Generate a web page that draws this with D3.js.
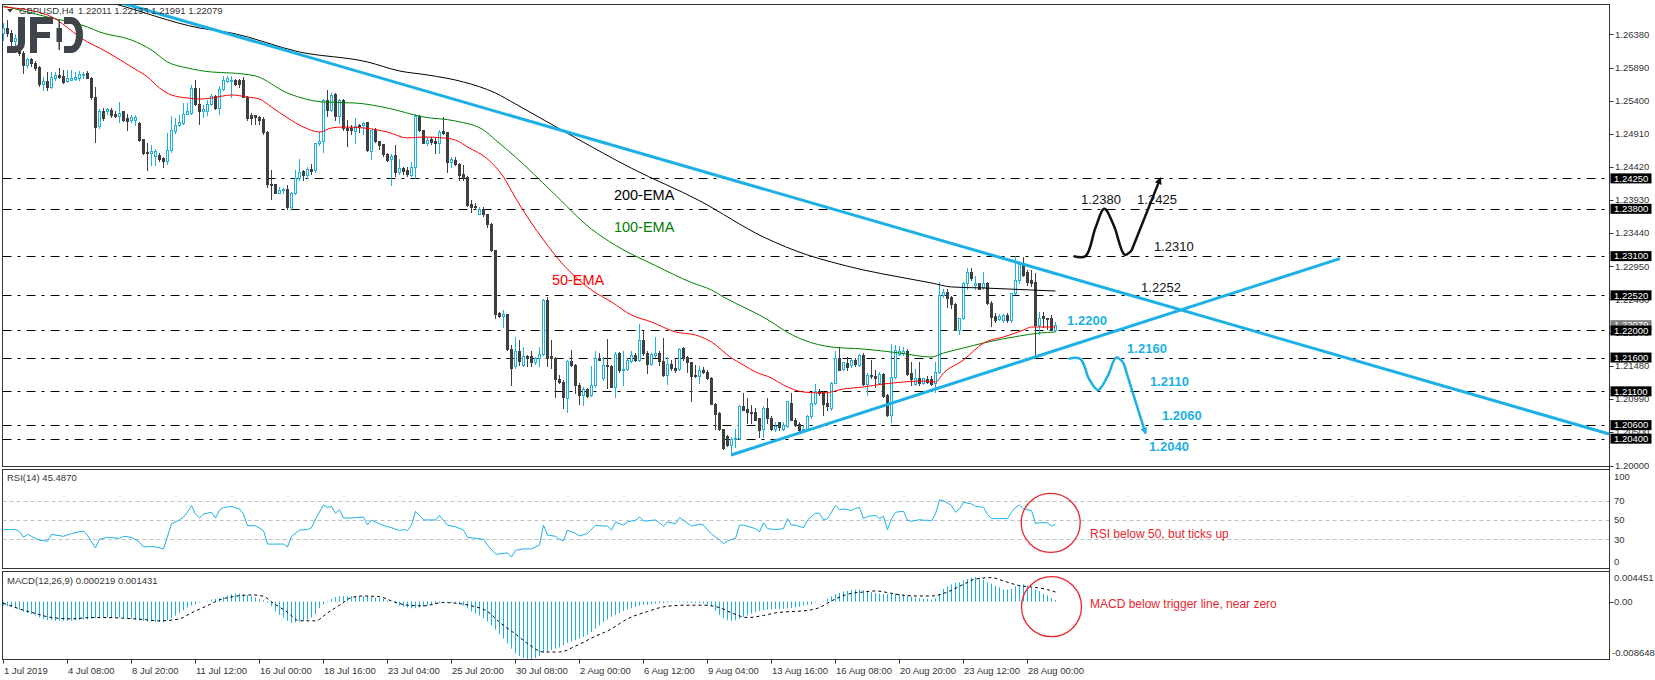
<!DOCTYPE html>
<html><head><meta charset="utf-8">
<script src="https://cdn.jsdelivr.net/npm/d3@7"></script>
<style>
body{margin:0;background:#fff}
svg{display:block}
text{font-family:"Liberation Sans",Arial,sans-serif}
</style>
</head><body>
<svg id="chart" width="1655" height="680"></svg>
<script>
// ---- GBPUSD H4 candles, bar 0 = 1 Jul 2019 ----
const barOpen = [
1.2640,1.2648,1.2640,1.2628,1.2632,1.2610,1.2593,1.2601,1.2596,1.2590,
1.2565,1.2569,1.2560,1.2573,1.2578,1.2576,1.2569,1.2571,1.2572,1.2574,
1.2578,1.2581,1.2574,1.2545,1.2502,1.2524,1.2524,1.2526,1.2521,1.2517,
1.2524,1.2514,1.2511,1.2512,1.2507,1.2483,1.2464,1.2463,1.2458,1.2460,
1.2455,1.2450,1.2467,1.2495,1.2504,1.2507,1.2521,1.2522,1.2558,1.2535,
1.2524,1.2525,1.2535,1.2547,1.2529,1.2557,1.2569,1.2569,1.2571,1.2570,
1.2570,1.2546,1.2519,1.2519,1.2516,1.2513,1.2494,1.2417,1.2416,1.2404,
1.2408,1.2410,1.2383,1.2403,1.2425,1.2436,1.2430,1.2439,1.2437,1.2477,
1.2480,1.2541,1.2526,1.2550,1.2518,1.2541,1.2500,1.2499,1.2495,1.2504,
1.2504,1.2508,1.2466,1.2497,1.2481,1.2476,1.2461,1.2453,1.2459,1.2435,
1.2441,1.2437,1.2430,1.2442,1.2518,1.2496,1.2477,1.2484,1.2480,1.2477,
1.2495,1.2494,1.2449,1.2452,1.2447,1.2431,1.2427,1.2387,1.2384,1.2373,
1.2380,1.2372,1.2358,1.2319,1.2226,1.2221,1.2224,1.2172,1.2147,1.2169,
1.2149,1.2162,1.2162,1.2153,1.2159,1.2165,1.2245,1.2162,1.2160,1.2128,
1.2124,1.2100,1.2155,1.2149,1.2120,1.2105,1.2113,1.2105,1.2119,1.2159,
1.2129,1.2149,1.2148,1.2117,1.2166,1.2141,1.2143,1.2155,1.2164,1.2156,
1.2186,1.2166,1.2151,1.2164,1.2167,1.2155,1.2134,1.2151,1.2144,1.2143,
1.2174,1.2161,1.2153,1.2134,1.2133,1.2142,1.2139,1.2129,1.2092,1.2078,
1.2054,1.2044,1.2031,1.2039,1.2041,1.2088,1.2084,1.2080,1.2079,1.2070,
1.2054,1.2086,1.2070,1.2054,1.2064,1.2055,1.2058,1.2093,1.2068,1.2062,
1.2053,1.2055,1.2073,1.2093,1.2111,1.2109,1.2093,1.2085,1.2123,1.2159,
1.2143,1.2152,1.2149,1.2156,1.2149,1.2164,1.2121,1.2134,1.2132,1.2123,
1.2136,1.2105,1.2075,1.2131,1.2165,1.2167,1.2170,1.2137,1.2121,1.2129,
1.2122,1.2128,1.2128,1.2122,1.2139,1.2252,1.2257,1.2250,1.2239,1.2201,
1.2218,1.2271,1.2286,1.2267,1.2270,1.2264,1.2271,1.2241,1.2221,1.2217,
1.2216,1.2223,1.2215,1.2255,1.2274,1.2298,1.2287,1.2275,1.2272,1.2208,
1.2221,1.2219,1.2219,1.22011];
const barHigh = [
1.2655,1.2660,1.2645,1.2638,1.2636,1.2614,1.2603,1.2603,1.2598,1.2591,
1.2575,1.2583,1.2583,1.2583,1.2588,1.2585,1.2585,1.2585,1.2583,1.2584,
1.2583,1.2584,1.2575,1.2560,1.2527,1.2529,1.2529,1.2529,1.2525,1.2538,
1.2524,1.2521,1.2519,1.2519,1.2509,1.2483,1.2477,1.2474,1.2469,1.2462,
1.2457,1.2492,1.2517,1.2514,1.2519,1.2536,1.2536,1.2563,1.2570,1.2558,
1.2533,1.2541,1.2550,1.2548,1.2561,1.2576,1.2576,1.2576,1.2572,1.2572,
1.2575,1.2547,1.2522,1.2519,1.2517,1.2516,1.2495,1.2437,1.2417,1.2412,
1.2411,1.2415,1.2405,1.2437,1.2454,1.2437,1.2442,1.2446,1.2478,1.2494,
1.2542,1.2556,1.2551,1.2551,1.2542,1.2542,1.2511,1.2504,1.2515,1.2506,
1.2509,1.2509,1.2497,1.2499,1.2481,1.2476,1.2463,1.2461,1.2474,1.2454,
1.2442,1.2442,1.2449,1.2521,1.2519,1.2497,1.2485,1.2486,1.2486,1.2496,
1.2516,1.2494,1.2456,1.2456,1.2448,1.2445,1.2428,1.2393,1.2389,1.2383,
1.2382,1.2373,1.2359,1.2319,1.2228,1.2231,1.2224,1.2178,1.2190,1.2186,
1.2175,1.2164,1.2169,1.2161,1.2176,1.2246,1.2250,1.2186,1.2161,1.2134,
1.2127,1.2156,1.2171,1.2151,1.2122,1.2116,1.2115,1.2147,1.2170,1.2166,
1.2161,1.2188,1.2149,1.2168,1.2168,1.2170,1.2159,1.2170,1.2166,1.2209,
1.2200,1.2169,1.2167,1.2190,1.2169,1.2189,1.2161,1.2156,1.2159,1.2174,
1.2176,1.2162,1.2154,1.2149,1.2148,1.2146,1.2142,1.2131,1.2093,1.2079,
1.2055,1.2046,1.2043,1.2055,1.2090,1.2107,1.2100,1.2090,1.2085,1.2070,
1.2088,1.2100,1.2073,1.2064,1.2065,1.2064,1.2096,1.2108,1.2070,1.2065,
1.2058,1.2075,1.2108,1.2121,1.2113,1.2111,1.2107,1.2124,1.2169,1.2175,
1.2154,1.2161,1.2160,1.2160,1.2165,1.2166,1.2137,1.2157,1.2141,1.2138,
1.2137,1.2106,1.2180,1.2179,1.2177,1.2175,1.2172,1.2154,1.2143,1.2153,
1.2130,1.2133,1.2133,1.2154,1.2272,1.2262,1.2262,1.2251,1.2240,1.2219,
1.2272,1.2293,1.2293,1.2280,1.2271,1.2286,1.2272,1.2243,1.2226,1.2225,
1.2225,1.2226,1.2256,1.2310,1.2302,1.2308,1.2289,1.2289,1.2285,1.2228,
1.2228,1.2219,1.2223,1.22133];
const barLow = [
1.2630,1.2635,1.2622,1.2618,1.2608,1.2581,1.2590,1.2592,1.2585,1.2561,
1.2556,1.2556,1.2558,1.2570,1.2573,1.2566,1.2568,1.2570,1.2570,1.2571,
1.2574,1.2573,1.2543,1.2479,1.2499,1.2511,1.2521,1.2516,1.2516,1.2509,
1.2510,1.2496,1.2509,1.2504,1.2481,1.2461,1.2437,1.2445,1.2445,1.2450,
1.2442,1.2446,1.2464,1.2492,1.2502,1.2505,1.2520,1.2521,1.2533,1.2506,
1.2516,1.2519,1.2533,1.2527,1.2521,1.2556,1.2568,1.2546,1.2563,1.2560,
1.2545,1.2511,1.2506,1.2506,1.2505,1.2491,1.2412,1.2395,1.2403,1.2403,
1.2404,1.2380,1.2380,1.2402,1.2423,1.2422,1.2426,1.2431,1.2435,1.2474,
1.2464,1.2518,1.2525,1.2512,1.2507,1.2497,1.2473,1.2491,1.2477,1.2494,
1.2491,1.2466,1.2453,1.2479,1.2469,1.2458,1.2451,1.2415,1.2428,1.2432,
1.2432,1.2428,1.2428,1.2425,1.2495,1.2477,1.2474,1.2476,1.2463,1.2463,
1.2491,1.2435,1.2442,1.2445,1.2423,1.2422,1.2384,1.2375,1.2379,1.2372,
1.2370,1.2353,1.2317,1.2218,1.2220,1.2205,1.2171,1.2119,1.2144,1.2149,
1.2147,1.2147,1.2147,1.2151,1.2147,1.2164,1.2147,1.2144,1.2101,1.2122,
1.2085,1.2079,1.2147,1.2107,1.2091,1.2090,1.2102,1.2103,1.2117,1.2156,
1.2127,1.2115,1.2116,1.2101,1.2139,1.2119,1.2141,1.2154,1.2155,1.2155,
1.2164,1.2137,1.2149,1.2161,1.2149,1.2133,1.2121,1.2141,1.2139,1.2141,
1.2156,1.2139,1.2095,1.2131,1.2123,1.2137,1.2128,1.2091,1.2055,1.2053,
1.2024,1.2029,1.2016,1.2028,1.2039,1.2082,1.2063,1.2063,1.2067,1.2043,
1.2042,1.2063,1.2053,1.2051,1.2053,1.2053,1.2057,1.2067,1.2058,1.2051,
1.2050,1.2053,1.2070,1.2092,1.2105,1.2075,1.2082,1.2083,1.2122,1.2141,
1.2141,1.2142,1.2146,1.2148,1.2148,1.2119,1.2105,1.2129,1.2117,1.2121,
1.2102,1.2073,1.2064,1.2129,1.2164,1.2164,1.2134,1.2119,1.2119,1.2119,
1.2121,1.2122,1.2119,1.2109,1.2137,1.2250,1.2235,1.2234,1.2200,1.2195,
1.2217,1.2262,1.2275,1.2262,1.2261,1.2262,1.2239,1.2207,1.2213,1.2215,
1.2213,1.2212,1.2213,1.2254,1.2270,1.2281,1.2267,1.2266,1.2159,1.2195,
1.2205,1.2202,1.2200,1.21991];
const barClose = [
1.2648,1.2640,1.2628,1.2632,1.2610,1.2593,1.2601,1.2595,1.2588,1.2565,
1.2569,1.2560,1.2575,1.2578,1.2575,1.2568,1.2573,1.2574,1.2575,1.2579,
1.2580,1.2574,1.2545,1.2501,1.2524,1.2515,1.2527,1.2519,1.2517,1.2522,
1.2511,1.2510,1.2516,1.2516,1.2482,1.2462,1.2462,1.2465,1.2465,1.2453,
1.2450,1.2467,1.2496,1.2504,1.2509,1.2521,1.2525,1.2558,1.2535,1.2524,
1.2527,1.2535,1.2547,1.2529,1.2557,1.2570,1.2574,1.2571,1.2564,1.2565,
1.2546,1.2514,1.2514,1.2516,1.2511,1.2494,1.2417,1.2415,1.2404,1.2408,
1.2409,1.2383,1.2403,1.2426,1.2435,1.2430,1.2439,1.2436,1.2477,1.2481,
1.2541,1.2526,1.2548,1.2518,1.2541,1.2499,1.2496,1.2497,1.2503,1.2502,
1.2507,1.2467,1.2496,1.2480,1.2474,1.2461,1.2452,1.2458,1.2435,1.2441,
1.2436,1.2431,1.2442,1.2518,1.2496,1.2478,1.2482,1.2479,1.2478,1.2493,
1.2492,1.2449,1.2453,1.2446,1.2430,1.2426,1.2385,1.2383,1.2382,1.2380,
1.2372,1.2357,1.2319,1.2225,1.2221,1.2225,1.2172,1.2145,1.2169,1.2155,
1.2162,1.2160,1.2153,1.2159,1.2165,1.2245,1.2159,1.2159,1.2128,1.2124,
1.2102,1.2155,1.2149,1.2119,1.2105,1.2113,1.2103,1.2119,1.2159,1.2157,
1.2149,1.2147,1.2117,1.2165,1.2141,1.2143,1.2157,1.2164,1.2156,1.2186,
1.2166,1.2151,1.2165,1.2167,1.2155,1.2134,1.2151,1.2144,1.2141,1.2172,
1.2159,1.2153,1.2133,1.2133,1.2142,1.2138,1.2129,1.2092,1.2077,1.2054,
1.2026,1.2031,1.2039,1.2041,1.2088,1.2083,1.2079,1.2078,1.2068,1.2053,
1.2086,1.2070,1.2055,1.2059,1.2057,1.2060,1.2095,1.2068,1.2060,1.2053,
1.2055,1.2073,1.2093,1.2111,1.2108,1.2091,1.2089,1.2123,1.2159,1.2142,
1.2153,1.2146,1.2156,1.2151,1.2164,1.2121,1.2134,1.2132,1.2129,1.2136,
1.2103,1.2075,1.2131,1.2171,1.2170,1.2170,1.2136,1.2128,1.2129,1.2122,
1.2129,1.2124,1.2121,1.2139,1.2252,1.2257,1.2248,1.2239,1.2201,1.2218,
1.2271,1.2286,1.2277,1.2271,1.2262,1.2271,1.2240,1.2220,1.2216,1.2221,
1.2223,1.2215,1.2255,1.2274,1.2298,1.2282,1.2272,1.2270,1.2208,1.2219,
1.2218,1.2217,1.2201,1.22079];

// moving averages, [bar, price]
const ema50 = [[0,1.26786],[11,1.26667],[21,1.26268],[24,1.26179],[28,1.26046],[32,1.25898],[36,1.25750],[39,1.25587],[42,1.25484],[46,1.25439],[49,1.25424],[52,1.25439],[57,1.25484],[61,1.25454],[64,1.25424],[67,1.25306],[71,1.25144],[75,1.25010],[79,1.24936],[82,1.24996],[85,1.25010],[90,1.24996],[96,1.24936],[101,1.24848],[105,1.24863],[110,1.24848],[113,1.24818],[116,1.24715],[121,1.24537],[125,1.24271],[128,1.23960],[135,1.23339],[140,1.22969],[147,1.22599],[152,1.22422],[157,1.22229],[162,1.22126],[168,1.21978],[173,1.21933],[177,1.21830],[182,1.21593],[185,1.21490],[188,1.21386],[192,1.21297],[195,1.21194],[200,1.21090],[205,1.21075],[210,1.21135],[215,1.21164],[220,1.21209],[225,1.21238],[230,1.21253],[233,1.21238],[235,1.21371],[240,1.21564],[245,1.21815],[250,1.21904],[255,1.22007],[257,1.22052],[263,1.22052]];
const ema100 = [[0,1.26800],[11,1.26638],[21,1.26490],[24,1.26416],[32,1.26297],[37,1.26149],[41,1.25972],[46,1.25883],[52,1.25824],[57,1.25809],[63,1.25765],[71,1.25513],[80,1.25380],[88,1.25365],[96,1.25291],[105,1.25158],[113,1.25099],[120,1.24966],[123,1.24818],[128,1.24567],[137,1.24060],[147,1.23500],[153,1.23260],[163,1.22960],[172,1.22710],[177,1.22599],[180,1.22496],[192,1.22126],[195,1.22007],[200,1.21860],[207,1.21756],[215,1.21726],[224,1.21667],[232,1.21608],[235,1.21667],[240,1.21741],[245,1.21815],[254,1.21919],[259,1.21963],[263,1.21978]];
const ema200 = [[20,1.26950],[27,1.26845],[49,1.26475],[57,1.26401],[74,1.26120],[91,1.25972],[99,1.25839],[106,1.25780],[115,1.25676],[123,1.25513],[128,1.25351],[143,1.24850],[157,1.24400],[174,1.23920],[190,1.23383],[201,1.23117],[207,1.23013],[215,1.22895],[224,1.22791],[232,1.22703],[237,1.22644],[245,1.22629],[257,1.22599],[263,1.22584]];

// RSI(14), [bar, value]
const rsiPts = [[0,40],[3,40],[4,38],[5,32],[6,35],[7,33],[9,29],[11,28],[12,35],[15,33],[17,36],[20,38.5],[21,34],[23,21],[24,30],[26,32],[29,31],[30,33],[32,32],[34,27],[35,22],[37,22.5],[38,22],[40,20],[42,46],[44,50],[45,53],[46,58],[47,65],[48,56],[49,52],[50,56],[52,58],[53,52],[54,60],[55,63],[57,64],[59,61.5],[60,56],[61,44],[63,44],[65,39],[66,25],[68,25],[70,25],[71,22],[72,33],[74,39.5],[76,40],[77,42],[78,51],[80,65.6],[81,63],[82,64],[83,57],[84,60.5],[85,52],[87,52],[88,52.4],[90,53],[91,45],[92,49.7],[94,46],[96,43],[97,42],[99,39],[100,40],[101,39],[102,44.6],[103,59],[104,54.7],[105,50],[106,50],[108,50],[109,54.7],[111,44.6],[113,43],[115,39.5],[116,32],[118,31],[120,30],[121,24],[123,14.7],[124,14.7],[126,15.8],[127,11.7],[128,18.5],[130,20],[132,20],[134,24],[135,44.6],[136,34.4],[138,33],[139,30],[140,28.6],[141,39.5],[143,36],[144,33.4],[146,36],[148,44.6],[149,44],[151,43.6],[152,39.5],[153,48],[155,44.6],[156,48],[158,49.7],[159,53],[160,49],[161,49],[163,50],[164,47],[165,43.6],[166,48],[168,46],[169,52.4],[170,49.7],[172,43.6],[174,45.6],[175,44.6],[177,35.4],[179,29.3],[180,25.3],[181,28.3],[183,31],[184,44.6],[185,44.6],[188,41],[189,37.8],[190,47],[191,41],[193,40],[195,41],[196,51.4],[197,44.6],[198,44.6],[200,42],[201,50],[203,57],[204,57],[205,50],[206,51.4],[208,64.9],[209,60.5],[210,61.5],[212,59.8],[213,62],[214,63],[215,51.4],[216,53.7],[218,54.7],[219,51.4],[220,53.7],[221,40],[222,51.4],[223,58],[225,59],[226,49.7],[227,48.6],[229,50.3],[230,49.7],[231,49.7],[232,49],[233,56.4],[234,70.7],[235,70],[237,65],[238,58],[239,61.5],[240,68.3],[242,66.6],[243,64],[245,63.2],[246,55.8],[247,51.4],[249,51.4],[251,51.4],[252,58],[253,63],[254,65.6],[255,61.5],[257,59.8],[258,46.3],[259,47.3],[261,47],[262,43.6],[263,45.487]];
const rsiLevels = [70, 50, 30];

// MACD(12,26,9): main histogram per bar, signal as [bar, value]
const macdMain = [
-6e-4,-7e-4,-8e-4,-10e-4,-12e-4,-15e-4,-17e-4,-19e-4,-21e-4,-24e-4,
-26e-4,-28e-4,-28e-4,-29e-4,-29e-4,-29e-4,-29e-4,-29e-4,-28e-4,-28e-4,
-27e-4,-27e-4,-26e-4,-25e-4,-25e-4,-24e-4,-24e-4,-24e-4,-24e-4,-24e-4,
-25e-4,-25e-4,-26e-4,-27e-4,-28e-4,-29e-4,-30e-4,-30e-4,-31e-4,-31e-4,
-31e-4,-28e-4,-25e-4,-21e-4,-17e-4,-13e-4,-9e-4,-6e-4,-4e-4,-1e-4,
0,1e-4,3e-4,4e-4,5e-4,7e-4,9e-4,11e-4,12e-4,12e-4,
11e-4,10e-4,8e-4,6e-4,4e-4,2e-4,-2e-4,-7e-4,-15e-4,-20e-4,
-24e-4,-29e-4,-32e-4,-31e-4,-30e-4,-29e-4,-27e-4,-24e-4,-19e-4,-10e-4,
-4e-4,1e-4,4e-4,7e-4,8e-4,8e-4,8e-4,8e-4,8e-4,8e-4,
8e-4,8e-4,7e-4,6e-4,5e-4,4e-4,2e-4,0,-3e-4,-6e-4,
-8e-4,-9e-4,-10e-4,-10e-4,-9e-4,-8e-4,-6e-4,-5e-4,-4e-4,-2e-4,
-1e-4,-1e-4,-2e-4,-2e-4,-4e-4,-6e-4,-10e-4,-15e-4,-18e-4,-21e-4,
-25e-4,-30e-4,-36e-4,-42e-4,-49e-4,-56e-4,-63e-4,-71e-4,-78e-4,-82e-4,
-85e-4,-86e-4,-86.48e-4,-85e-4,-82e-4,-77e-4,-75e-4,-73e-4,-71e-4,-69e-4,
-66e-4,-62e-4,-60e-4,-58e-4,-56e-4,-53e-4,-50e-4,-46e-4,-41e-4,-36e-4,
-31e-4,-27e-4,-23e-4,-20e-4,-17e-4,-14e-4,-12e-4,-10e-4,-8e-4,-6e-4,
-5e-4,-5e-4,-4e-4,-3e-4,-2e-4,-2e-4,-2e-4,-1e-4,-1e-4,-1e-4,
-1e-4,-2e-4,-2e-4,-2e-4,-2e-4,-3e-4,-5e-4,-7e-4,-14e-4,-20e-4,
-25e-4,-28e-4,-29e-4,-28e-4,-26e-4,-23e-4,-21e-4,-18e-4,-16e-4,-14e-4,
-13e-4,-12e-4,-12e-4,-11e-4,-11e-4,-11e-4,-10e-4,-10e-4,-9e-4,-8e-4,
-6e-4,-5e-4,-4e-4,-1e-4,0,1e-4,4e-4,8e-4,11e-4,13e-4,
15e-4,16e-4,17e-4,18e-4,18e-4,17e-4,14e-4,14e-4,13e-4,12e-4,
11e-4,11e-4,12e-4,12e-4,11e-4,11e-4,9e-4,7e-4,6e-4,5e-4,
4e-4,4e-4,3e-4,5e-4,11e-4,19e-4,23e-4,26e-4,28e-4,29e-4,
32e-4,34e-4,36e-4,37e-4,36e-4,33e-4,29e-4,27e-4,24e-4,21e-4,
18e-4,18e-4,19e-4,23e-4,25e-4,26e-4,24e-4,21e-4,18e-4,16e-4,
12e-4,9e-4,5e-4,2.19e-4];
const macdSignal = [[0,-2.5e-4],[4,-11e-4],[8,-18e-4],[12,-24e-4],[17,-26e-4],[22,-24e-4],[26,-24e-4],[30,-25e-4],[35,-27e-4],[39,-29e-4],[44,-26e-4],[47,-17e-4],[51,-6e-4],[54,2.5e-4],[58,8e-4],[62,10e-4],[65,8e-4],[67,-0.5e-4],[71,-16e-4],[74,-29e-4],[78,-29e-4],[81,-17e-4],[84,-5.5e-4],[87,6e-4],[90,8.4e-4],[94,7.4e-4],[97,1e-4],[101,-5.5e-4],[105,-6.4e-4],[110,-1.5e-4],[113,-2.5e-4],[117,-6.4e-4],[121,-15e-4],[124,-31e-4],[128,-49e-4],[131,-63e-4],[135,-76e-4],[139,-76e-4],[143,-67e-4],[147,-55e-4],[152,-41e-4],[156,-26e-4],[161,-15e-4],[165,-8e-4],[170,-5.5e-4],[175,-5.5e-4],[179,-9e-4],[182,-17e-4],[186,-24e-4],[190,-21e-4],[193,-17e-4],[197,-15e-4],[200,-14e-4],[204,-9e-4],[207,1e-4],[211,11e-4],[215,14.4e-4],[218,16e-4],[222,12.4e-4],[225,9.4e-4],[229,8.4e-4],[232,8.4e-4],[236,14.4e-4],[240,26e-4],[243,34e-4],[247,36e-4],[250,31e-4],[254,24e-4],[257,22e-4],[261,18e-4],[263,14.31e-4]];

// axes
const priceTicks = [1.26380,1.25890,1.25400,1.24910,1.24420,1.23930,1.23440,1.22950,1.22460,1.21970,1.21480,1.20990,1.20500,1.20000];
const levelPrices = [1.2425,1.2380,1.2310,1.2252,1.2200,1.2160,1.2110,1.2060,1.2040];
const lastPrice = 1.22079;
const dateLabels = ["1 Jul 2019","4 Jul 08:00","8 Jul 20:00","11 Jul 12:00","16 Jul 00:00","18 Jul 16:00","23 Jul 04:00","25 Jul 20:00","30 Jul 08:00","2 Aug 00:00","6 Aug 12:00","9 Aug 04:00","13 Aug 16:00","16 Aug 08:00","20 Aug 20:00","23 Aug 12:00","28 Aug 00:00"];
const dateLabelStep = 16; // bars between date labels
const macdTickVals = [0.004451, 0.0, -0.008648];
const macdTickText = ["0.004451", "0.00", "-0.008648"];

// trendlines and scenario paths, [bar, price]
const trendDown = [[29.6,1.26845],[401.4,1.20469]];
const trendUp = [[181.9,1.20158],[334.1,1.23064]];
const bullPath = [[267.5,1.2310],[270.5,1.2310],[273,1.2352],[275.2,1.2380],[277.6,1.2355],[280.3,1.2312],[282.0,1.2318]];
const bullArrow = [[282.0,1.2318],[289.2,1.2425]];
const bearPath = [[266.2,1.2158],[269.2,1.2158],[271.4,1.2128],[273.6,1.2112],[276,1.2132],[278.2,1.2160],[280,1.2152]];
const bearArrow = [[280,1.2152],[285.5,1.2048]];
const bullLabels = [["1.2425",283.4,1.2394],["1.2380",269.4,1.2394],["1.2310",287.6,1.2324],["1.2252",284.4,1.2264]];
const bearLabels = [["1.2200",265.9,1.2215],["1.2160",280.9,1.2174],["1.2110",286.6,1.2125],["1.2060",289.6,1.2074],["1.2040",286.4,1.2028]];
const maCaptions = [["200-EMA",152.6,1.24004,"#000"],["100-EMA",152.6,1.23531,"#008000"],["50-EMA",137.1,1.22751,"#ff0000"]];

// ---- drawing ----
const CYAN = "#1cb0e4", DARK = "#3f3f3f";
const svg = d3.select("#chart");
const xLeft = 2.5, xRight = 1609.5;
const mainBox = {top: 4.5, bottom: 466.5};
const rsiBox = {top: 469.5, bottom: 568.5};
const macdBox = {top: 571.5, bottom: 659.5};

const x = d3.scaleLinear().domain([0, 263]).range([3.5, 1055.5]);
const y = d3.scaleLinear().domain([1.2, 1.268]).range([465.7, 465.7 - 0.068 * 6760]);
const yRsi = d3.scaleLinear().domain([0, 100]).range([568.2, 471.7]);
const yMacd = d3.scaleLinear().domain([-0.008648, 0.004451]).range([659, 572]);

const defs = svg.append("defs");
function clip(id, box) {
  defs.append("clipPath").attr("id", id).append("rect")
    .attr("x", xLeft).attr("y", box.top).attr("width", xRight - xLeft).attr("height", box.bottom - box.top);
}
clip("clipMain", mainBox); clip("clipRsi", rsiBox); clip("clipMacd", macdBox);
defs.append("marker").attr("id", "arrBlack").attr("viewBox", "0 0 10 10").attr("refX", 8).attr("refY", 5)
  .attr("markerWidth", 7).attr("markerHeight", 7).attr("markerUnits", "userSpaceOnUse").attr("orient", "auto")
  .append("path").attr("d", "M0,0 L10,5 L0,10 z").attr("fill", "#111");
defs.append("marker").attr("id", "arrCyan").attr("viewBox", "0 0 10 10").attr("refX", 8).attr("refY", 5)
  .attr("markerWidth", 7).attr("markerHeight", 7).attr("markerUnits", "userSpaceOnUse").attr("orient", "auto")
  .append("path").attr("d", "M0,0 L10,5 L0,10 z").attr("fill", CYAN);

svg.append("rect").attr("width", 1655).attr("height", 680).attr("fill", "#fff");

// panel frames
[mainBox, rsiBox, macdBox].forEach(b => {
  svg.append("rect").attr("x", xLeft).attr("y", b.top).attr("width", xRight - xLeft).attr("height", b.bottom - b.top)
    .attr("fill", "none").attr("stroke", "#333").attr("stroke-width", 1);
});

const gMain = svg.append("g").attr("clip-path", "url(#clipMain)");

// horizontal levels (dash-dot)
gMain.selectAll("line.lvl").data(levelPrices).join("line")
  .attr("x1", xLeft).attr("x2", xRight)
  .attr("y1", d => Math.round(y(d)) + 0.5).attr("y2", d => Math.round(y(d)) + 0.5)
  .attr("stroke", "#000").attr("stroke-width", 1).attr("stroke-dasharray", "9,6,3,6");

// candles
const bars = d3.range(barClose.length);
const snap = v => Math.round(v) + 0.5;
const gC = gMain.append("g");
gC.selectAll("line.wick").data(bars).join("line")
  .attr("x1", i => x(i)).attr("x2", i => x(i))
  .attr("y1", i => Math.round(y(barHigh[i]))).attr("y2", i => Math.round(y(barLow[i])) + 1)
  .attr("stroke", i => barClose[i] >= barOpen[i] ? CYAN : DARK).attr("stroke-width", 1);
gC.selectAll("rect.body").data(bars).join("rect")
  .attr("x", i => x(i) - 1)
  .attr("width", 2)
  .attr("y", i => snap(y(Math.max(barOpen[i], barClose[i]))))
  .attr("height", i => Math.max(0, Math.round(y(Math.min(barOpen[i], barClose[i]))) - Math.round(y(Math.max(barOpen[i], barClose[i])))))
  .attr("fill", i => barClose[i] >= barOpen[i] ? "#fff" : DARK)
  .attr("stroke", i => barClose[i] >= barOpen[i] ? CYAN : DARK).attr("stroke-width", 1);

// moving averages
const lineP = d3.line().x(d => x(d[0])).y(d => y(d[1])).curve(d3.curveMonotoneX);
gMain.append("path").attr("d", lineP(ema200)).attr("fill", "none").attr("stroke", "#000").attr("stroke-width", 1);
gMain.append("path").attr("d", lineP(ema100)).attr("fill", "none").attr("stroke", "#008000").attr("stroke-width", 1);
gMain.append("path").attr("d", lineP(ema50)).attr("fill", "none").attr("stroke", "#ff0000").attr("stroke-width", 1);

// trendlines
const straight = d3.line().x(d => x(d[0])).y(d => y(d[1]));
[trendDown, trendUp].forEach(t => {
  gMain.append("path").attr("d", straight(t)).attr("fill", "none").attr("stroke", CYAN).attr("stroke-width", 3);
});

// scenario paths
const smooth = d3.line().x(d => x(d[0])).y(d => y(d[1])).curve(d3.curveCatmullRom);
gMain.append("path").attr("d", smooth(bullPath)).attr("fill", "none").attr("stroke", "#111").attr("stroke-width", 2.5);
gMain.append("path").attr("d", straight(bullArrow)).attr("fill", "none").attr("stroke", "#111").attr("stroke-width", 2.5).attr("marker-end", "url(#arrBlack)");
gMain.append("path").attr("d", smooth(bearPath)).attr("fill", "none").attr("stroke", CYAN).attr("stroke-width", 2.5);
gMain.append("path").attr("d", straight(bearArrow)).attr("fill", "none").attr("stroke", CYAN).attr("stroke-width", 2.5).attr("marker-end", "url(#arrCyan)");

gMain.selectAll("text.bull").data(bullLabels).join("text")
  .attr("x", d => x(d[1])).attr("y", d => y(d[2])).attr("dy", "0.35em")
  .attr("font-size", 13).attr("fill", "#111").text(d => d[0]);
gMain.selectAll("text.bear").data(bearLabels).join("text")
  .attr("x", d => x(d[1])).attr("y", d => y(d[2])).attr("dy", "0.35em")
  .attr("font-size", 13).attr("font-weight", "bold").attr("fill", CYAN).text(d => d[0]);

// MA captions
maCaptions.forEach(c => {
  gMain.append("text").attr("x", x(c[1])).attr("y", y(c[2])).attr("dy", "0.35em")
    .attr("font-size", 14.5).attr("fill", c[3]).text(c[0]);
});

// title
svg.append("path").attr("d", "M7,9 L13,9 L10,12.5 z").attr("fill", "#333");
svg.append("text").attr("x", 19).attr("y", 10.5).attr("dy", "0.35em").attr("font-size", 9.5).attr("fill", "#333").text("GBPUSD,H4");
svg.append("text").attr("x", 78).attr("y", 10.5).attr("dy", "0.35em").attr("font-size", 9.5).attr("fill", "#333").text("1.22011 1.22133 1.21991 1.22079");

// logo
const logo = svg.append("g").attr("fill", "#3f434a");
logo.append("path").attr("d", "M18,17 h7 v26 a10,10 0 0 1 -10,10 h-8 v-7 h8 a3,3 0 0 0 3,-3 z");
logo.append("path").attr("d", "M30,17 h23 v7 h-16 v8 h13 v6 h-13 v15 h-7 z");
logo.append("rect").attr("x", 58.5).attr("y", 20).attr("width", 1.5).attr("height", 30);
logo.append("rect").attr("x", 56.5).attr("y", 28).attr("width", 5.5).attr("height", 14);
logo.append("path").attr("d", "M64,17 h7 a12,18 0 0 1 0,36 h-7 v-7 h7 a5,11 0 0 0 0,-22 h-7 z");

// RSI
const gR = svg.append("g").attr("clip-path", "url(#clipRsi)");
gR.selectAll("line.lv").data(rsiLevels).join("line")
  .attr("x1", xLeft).attr("x2", xRight).attr("y1", d => snap(yRsi(d))).attr("y2", d => snap(yRsi(d)))
  .attr("stroke", "#c0c0c0").attr("stroke-dasharray", "4,3");
gR.append("path").attr("d", d3.line().x(d => x(d[0])).y(d => yRsi(d[1]))(rsiPts))
  .attr("fill", "none").attr("stroke", CYAN).attr("stroke-width", 1);
svg.append("text").attr("x", 7).attr("y", 478).attr("dy", "0.35em").attr("font-size", 9.5).attr("fill", "#333").text("RSI(14) 45.4870");

// MACD
const gM = svg.append("g").attr("clip-path", "url(#clipMacd)");
gM.selectAll("line.h").data(bars).join("line")
  .attr("x1", i => x(i)).attr("x2", i => x(i))
  .attr("y1", yMacd(0)).attr("y2", i => yMacd(macdMain[i]))
  .attr("stroke", CYAN).attr("stroke-width", 1);
gM.append("path").attr("d", d3.line().x(d => x(d[0])).y(d => yMacd(d[1])).curve(d3.curveMonotoneX)(macdSignal))
  .attr("fill", "none").attr("stroke", "#000").attr("stroke-width", 1).attr("stroke-dasharray", "3,3");
svg.append("text").attr("x", 7).attr("y", 581).attr("dy", "0.35em").attr("font-size", 9.5).attr("fill", "#333").text("MACD(12,26,9) 0.000219 0.001431");

// right axis
svg.append("line").attr("x1", xRight).attr("x2", xRight).attr("y1", mainBox.top).attr("y2", macdBox.bottom).attr("stroke", "#333");
const axT = svg.append("g").attr("font-size", 9.5).attr("fill", "#333");
priceTicks.forEach(p => {
  const yy = snap(y(p));
  svg.append("line").attr("x1", xRight).attr("x2", xRight + 4).attr("y1", yy).attr("y2", yy).attr("stroke", "#333");
  axT.append("text").attr("x", 1615).attr("y", y(p)).attr("dy", "0.35em").text(p.toFixed(5));
});
// last price marker then level tags
svg.append("rect").attr("x", 1610.5).attr("y", y(lastPrice) - 5).attr("width", 41).attr("height", 10).attr("fill", "#7f7f7f");
svg.append("text").attr("x", 1614).attr("y", y(lastPrice)).attr("dy", "0.35em").attr("font-size", 9.5).attr("fill", "#fff").text(lastPrice.toFixed(5));
levelPrices.forEach(p => {
  svg.append("rect").attr("x", 1610.5).attr("y", y(p) - 5).attr("width", 41).attr("height", 10).attr("fill", "#000");
  svg.append("text").attr("x", 1614).attr("y", y(p)).attr("dy", "0.35em").attr("font-size", 9.5).attr("fill", "#fff").text(p.toFixed(5));
});
[[100, 477], [70, null], [50, null], [30, null], [0, 562]].forEach(([v, fixedY]) => {
  axT.append("text").attr("x", 1614).attr("y", fixedY !== null ? fixedY : yRsi(v)).attr("dy", "0.35em").text(v);
});
macdTickVals.forEach((v, i) => {
  const yy = i === 0 ? 578 : (i === 2 ? 652.5 : yMacd(v));
  if (i === 1) svg.append("line").attr("x1", xRight).attr("x2", xRight + 4).attr("y1", snap(yMacd(v))).attr("y2", snap(yMacd(v))).attr("stroke", "#333");
  axT.append("text").attr("x", i === 2 ? 1612 : 1614).attr("y", yy).attr("dy", "0.35em").text(macdTickText[i]);
});

// date axis
dateLabels.forEach((t, i) => {
  const bx = x(i * dateLabelStep);
  svg.append("line").attr("x1", bx).attr("x2", bx).attr("y1", macdBox.bottom).attr("y2", macdBox.bottom + 4).attr("stroke", "#333");
  axT.append("text").attr("x", bx + 0.5).attr("y", 670.5).attr("dy", "0.35em").text(t);
});

// callouts
const redC = "#e8262e";
svg.append("circle").attr("cx", x(261.8)).attr("cy", yRsi(47)).attr("r", 29.5).attr("fill", "none").attr("stroke", redC).attr("stroke-width", 1.3);
svg.append("circle").attr("cx", x(262)).attr("cy", yMacd(-0.000774)).attr("r", 30).attr("fill", "none").attr("stroke", redC).attr("stroke-width", 1.3);
svg.append("text").attr("x", 1090).attr("y", 534).attr("dy", "0.35em").attr("font-size", 12).attr("fill", redC).text("RSI below 50, but ticks up");
svg.append("text").attr("x", 1090).attr("y", 604).attr("dy", "0.35em").attr("font-size", 12).attr("fill", redC).text("MACD below trigger line, near zero");
</script>
</body></html>
